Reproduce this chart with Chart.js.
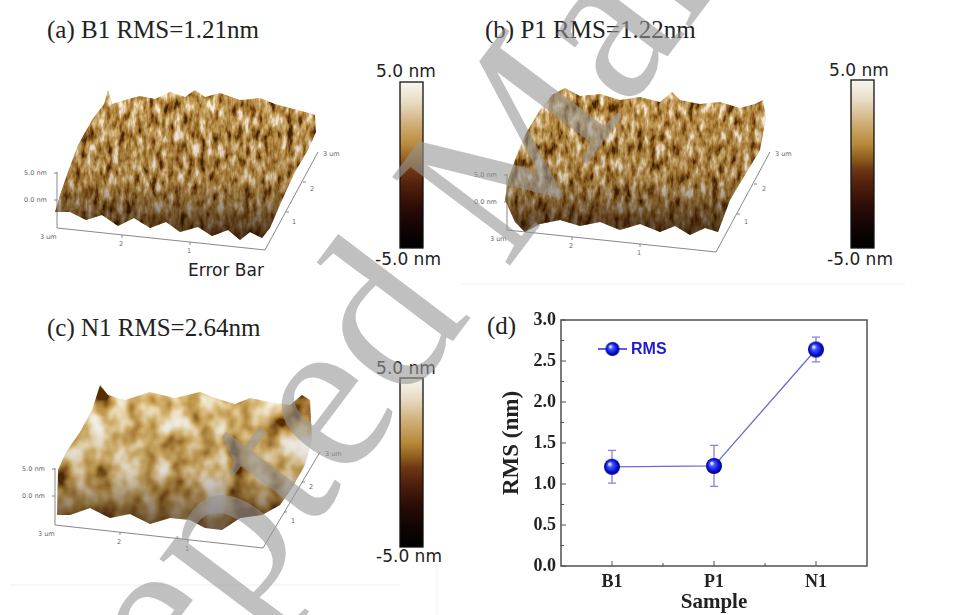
<!DOCTYPE html>
<html>
<head>
<meta charset="utf-8">
<script src="https://cdn.jsdelivr.net/npm/chart.js@4.4.1/dist/chart.umd.min.js"></script>
<style>
  html,body{margin:0;padding:0;background:#fff;}
  #wrap{position:relative;width:955px;height:615px;overflow:hidden;background:#fff;}
  #bg,#wm{position:absolute;left:0;top:0;}
  #wm{pointer-events:none;}
  #chartBox{position:absolute;left:480px;top:300px;width:475px;height:315px;}
</style>
</head>
<body>
<div id="wrap">
<svg id="bg" width="955" height="615" xmlns="http://www.w3.org/2000/svg">
  <defs>
    <linearGradient id="cbar" x1="0" y1="0" x2="0" y2="1">
      <stop offset="0" stop-color="#f8f6f0"/>
      <stop offset="0.12" stop-color="#e8dcc4"/>
      <stop offset="0.25" stop-color="#d0b07a"/>
      <stop offset="0.38" stop-color="#b88a3a"/>
      <stop offset="0.47" stop-color="#8e5c1c"/>
      <stop offset="0.53" stop-color="#6e3814"/>
      <stop offset="0.62" stop-color="#52200c"/>
      <stop offset="0.75" stop-color="#2c0c06"/>
      <stop offset="0.88" stop-color="#120404"/>
      <stop offset="1" stop-color="#000"/>
    </linearGradient>
    <linearGradient id="shade" x1="0" y1="0" x2="0" y2="1">
      <stop offset="0" stop-color="#1e0a00" stop-opacity="0"/>
      <stop offset="0.6" stop-color="#1e0a00" stop-opacity="0.15"/>
      <stop offset="1" stop-color="#1e0a00" stop-opacity="0.75"/>
    </linearGradient>
    <filter id="fine" filterUnits="userSpaceOnUse" x="0" y="0" width="955" height="615">
      <feTurbulence type="fractalNoise" baseFrequency="0.16 0.07" numOctaves="3" seed="4" result="n"/>
      <feColorMatrix in="n" type="matrix" values="1.7 0 0 0 -0.36  1.7 0 0 0 -0.36  1.7 0 0 0 -0.36  0 0 0 0 1" result="g"/>
      <feComponentTransfer in="g" result="c">
        <feFuncR type="table" tableValues="0.05 0.18 0.33 0.46 0.58 0.72 0.90 0.98"/>
        <feFuncG type="table" tableValues="0.02 0.06 0.15 0.25 0.36 0.50 0.75 0.92"/>
        <feFuncB type="table" tableValues="0.00 0.01 0.02 0.05 0.11 0.22 0.55 0.85"/>
      </feComponentTransfer>
      <feComposite in="c" in2="SourceGraphic" operator="in"/>
    </filter>
    <filter id="coarse" filterUnits="userSpaceOnUse" x="0" y="0" width="955" height="615">
      <feTurbulence type="fractalNoise" baseFrequency="0.035 0.03" numOctaves="3" seed="9" result="n"/>
      <feColorMatrix in="n" type="matrix" values="1.9 0 0 0 -0.47  1.9 0 0 0 -0.47  1.9 0 0 0 -0.47  0 0 0 0 1" result="g"/>
      <feComponentTransfer in="g" result="c">
        <feFuncR type="table" tableValues="0.10 0.36 0.56 0.72 0.86 0.95 1.0"/>
        <feFuncG type="table" tableValues="0.03 0.17 0.34 0.50 0.72 0.90 0.98"/>
        <feFuncB type="table" tableValues="0.00 0.03 0.08 0.18 0.44 0.78 0.95"/>
      </feComponentTransfer>
      <feComposite in="c" in2="SourceGraphic" operator="in"/>
    </filter>
  </defs>

  <!-- faint panel separators -->
  <line x1="460" y1="284" x2="905" y2="284" stroke="#efefef" stroke-width="1"/>
  <line x1="10" y1="585" x2="400" y2="585" stroke="#efefef" stroke-width="1"/>
  <line x1="437" y1="560" x2="437" y2="615" stroke="#f3f3f3" stroke-width="1"/>

  <!-- titles -->
  <g font-family="Liberation Serif, Times New Roman, serif" font-size="25" fill="#222">
    <text x="47" y="38">(a) B1 RMS=1.21nm</text>
    <text x="485" y="38">(b) P1 RMS=1.22nm</text>
    <text x="47" y="336">(c) N1 RMS=2.64nm</text>
    <text x="487" y="334">(d)</text>
  </g>

  <!-- colour bars -->
  <g stroke="#111" stroke-width="1.3">
    <rect x="400" y="82" width="23" height="166" fill="url(#cbar)"/>
    <rect x="851" y="80" width="23" height="168" fill="url(#cbar)"/>
    <rect x="400" y="378" width="23" height="169" fill="url(#cbar)"/>
  </g>
  <g font-family="DejaVu Sans, sans-serif" font-size="17" fill="#222" text-anchor="middle">
    <text x="406" y="77">5.0 nm</text>
    <text x="408" y="265">-5.0 nm</text>
    <text x="859" y="76">5.0 nm</text>
    <text x="860" y="265">-5.0 nm</text>
    <text x="406" y="374">5.0 nm</text>
    <text x="409" y="562">-5.0 nm</text>
  </g>
  <text x="188" y="276" font-family="DejaVu Sans, sans-serif" font-size="17" fill="#222">Error Bar</text>

  <!-- surface (a) -->
  <g fill="none" stroke="#7a7a7a" stroke-width="0.9">
    <polyline points="57,172 57,228 265,250 318,152"/>
    <line x1="54" y1="173" x2="57" y2="173"/><line x1="54" y1="200" x2="57" y2="200"/>
    <line x1="122" y1="235" x2="122" y2="238"/><line x1="190" y1="242" x2="190" y2="245"/>
    <line x1="286" y1="212" x2="289" y2="212"/><line x1="303" y1="182" x2="306" y2="182"/>
  </g>
  <polygon filter="url(#fine)" fill="#000" points="55,212 60,195 68,172 78,145 92,120 104,104 108,90 112,104 125,100 140,96 155,99 170,92 185,97 195,90 205,97 220,93 240,100 260,98 275,104 290,108 305,112 315,115 316,132 308,150 296,170 282,200 270,228 262,238 250,232 240,240 228,230 212,236 198,227 180,232 166,222 150,228 134,218 118,226 102,215 86,220 70,212"/>
  <polygon fill="url(#shade)" points="55,212 60,195 68,172 78,145 92,120 104,104 108,90 112,104 125,100 140,96 155,99 170,92 185,97 195,90 205,97 220,93 240,100 260,98 275,104 290,108 305,112 315,115 316,132 308,150 296,170 282,200 270,228 262,238 250,232 240,240 228,230 212,236 198,227 180,232 166,222 150,228 134,218 118,226 102,215 86,220 70,212"/>

  <!-- surface (b) -->
  <g fill="none" stroke="#7a7a7a" stroke-width="0.9">
    <polyline points="507,174 507,230 716,252 770,152"/>
    <line x1="504" y1="175" x2="507" y2="175"/><line x1="504" y1="202" x2="507" y2="202"/>
    <line x1="572" y1="237" x2="572" y2="240"/><line x1="640" y1="244" x2="640" y2="247"/>
    <line x1="737" y1="214" x2="740" y2="214"/><line x1="754" y1="184" x2="757" y2="184"/>
  </g>
  <polygon filter="url(#fine)" fill="#000" points="505,200 508,180 515,160 525,135 540,110 552,95 565,88 580,96 600,94 620,100 640,97 660,102 672,92 680,100 700,104 720,102 740,108 755,104 763,100 766,118 760,150 745,175 730,200 718,232 705,228 690,235 675,226 660,232 640,224 620,230 600,222 580,226 560,220 540,224 525,232 515,222"/>
  <polygon fill="url(#shade)" points="505,200 508,180 515,160 525,135 540,110 552,95 565,88 580,96 600,94 620,100 640,97 660,102 672,92 680,100 700,104 720,102 740,108 755,104 763,100 766,118 760,150 745,175 730,200 718,232 705,228 690,235 675,226 660,232 640,224 620,230 600,222 580,226 560,220 540,224 525,232 515,222"/>

  <!-- surface (c) -->
  <g fill="none" stroke="#7a7a7a" stroke-width="0.9">
    <polyline points="55,468 55,525 263,548 320,452"/>
    <line x1="52" y1="469" x2="55" y2="469"/><line x1="52" y1="496" x2="55" y2="496"/>
    <line x1="120" y1="532" x2="120" y2="535"/><line x1="188" y1="540" x2="188" y2="543"/>
    <line x1="284" y1="512" x2="287" y2="512"/><line x1="302" y1="482" x2="305" y2="482"/>
  </g>
  <polygon filter="url(#coarse)" fill="#000" points="57,515 58,470 66,452 80,432 92,410 100,385 108,395 125,400 150,392 175,398 200,392 215,398 235,404 250,398 270,402 290,405 302,395 310,400 312,440 305,465 292,488 280,505 262,515 240,518 222,530 205,528 190,520 170,518 150,524 130,514 110,518 90,508 70,515"/>
  <polygon fill="url(#shade)" opacity="0.85" points="57,515 58,470 66,452 80,432 92,410 100,385 108,395 125,400 150,392 175,398 200,392 215,398 235,404 250,398 270,402 290,405 302,395 310,400 312,440 305,465 292,488 280,505 262,515 240,518 222,530 205,528 190,520 170,518 150,524 130,514 110,518 90,508 70,515"/>

  <!-- tiny AFM axis labels -->
  <g font-family="DejaVu Sans, sans-serif" font-size="6.5" fill="#666">
    <text x="24" y="175">5.0 nm</text><text x="24" y="202">0.0 nm</text>
    <text x="40" y="239">3 um</text><text x="119" y="246">2</text><text x="187" y="253">1</text>
    <text x="323" y="156">3 um</text><text x="310" y="191">2</text><text x="292" y="224">1</text>

    <text x="474" y="177">5.0 nm</text><text x="474" y="204">0.0 nm</text>
    <text x="490" y="241">3 um</text><text x="569" y="248">2</text><text x="637" y="255">1</text>
    <text x="775" y="156">3 um</text><text x="762" y="191">2</text><text x="744" y="224">1</text>

    <text x="22" y="471">5.0 nm</text><text x="22" y="498">0.0 nm</text>
    <text x="38" y="536">3 um</text><text x="117" y="544">2</text><text x="185" y="551">1</text>
    <text x="325" y="456">3 um</text><text x="309" y="489">2</text><text x="291" y="523">1</text>
  </g>
</svg>

<div id="chartBox"><canvas id="c" width="475" height="315"></canvas></div>

<svg id="wm" width="955" height="615" xmlns="http://www.w3.org/2000/svg">
  <text x="-39" y="994" transform="rotate(-53 -39 994)" font-family="Liberation Serif, Times New Roman, serif" font-size="225" fill="rgb(150,150,150)" fill-opacity="0.6">Accepted Manuscript</text>
</svg>
</div>

<script>
// ---- data ----
const samples = ['B1', 'P1', 'N1'];
const rms     = [1.21, 1.22, 2.64];
const rmsErr  = [0.20, 0.25, 0.15];
const yTickStep = 0.5;
const seriesLabel = 'RMS';

// sphere marker
function makeSphere(r){
  const s = document.createElement('canvas');
  const d = r*2+2; s.width = d; s.height = d;
  const g = s.getContext('2d');
  const cx = d/2, cy = d/2;
  const grad = g.createRadialGradient(cx-r*0.3, cy-r*0.35, r*0.1, cx, cy, r);
  grad.addColorStop(0, '#dfe4ff');
  grad.addColorStop(0.25, '#4656ff');
  grad.addColorStop(0.7, '#0812d6');
  grad.addColorStop(1, '#00007a');
  g.fillStyle = grad;
  g.beginPath(); g.arc(cx, cy, r, 0, Math.PI*2); g.fill();
  return s;
}
const sphere = makeSphere(8);
const sphereSmall = makeSphere(7);

const serif = 'Liberation Serif, Times New Roman, serif';

const framePlugin = {
  id: 'frame',
  afterDraw(chart){
    const {ctx, chartArea:a, scales:{x, y}} = chart;
    ctx.save();
    ctx.strokeStyle = '#505050';
    ctx.lineWidth = 1.5;
    ctx.strokeRect(a.left, a.top, a.right - a.left, a.bottom - a.top);
    ctx.lineWidth = 1;
    for (let v = 0; v <= y.max + 1e-9; v += yTickStep/2){
      const py = y.getPixelForValue(v);
      const major = Math.abs(v / yTickStep - Math.round(v / yTickStep)) < 1e-6;
      ctx.beginPath(); ctx.moveTo(a.left, py); ctx.lineTo(a.left + (major ? 5 : 3), py); ctx.stroke();
    }
    for (let i = 0; i < samples.length; i++){
      const px = x.getPixelForValue(i + 1);
      ctx.beginPath(); ctx.moveTo(px, a.bottom); ctx.lineTo(px, a.bottom - 5); ctx.stroke();
      if (i < samples.length - 1){
        const pm = x.getPixelForValue(i + 1.5);
        ctx.beginPath(); ctx.moveTo(pm, a.bottom); ctx.lineTo(pm, a.bottom - 3); ctx.stroke();
      }
    }
    // legend
    const ly = a.top + 29, lx = a.left + 37;
    ctx.strokeStyle = '#2a2ae0'; ctx.lineWidth = 1.5;
    ctx.beginPath(); ctx.moveTo(lx, ly); ctx.lineTo(lx + 29, ly); ctx.stroke();
    ctx.drawImage(sphereSmall, lx + 14.5 - sphereSmall.width/2, ly - sphereSmall.height/2);
    ctx.fillStyle = '#1a1ad8';
    ctx.font = 'bold 16px Liberation Sans, Arial, sans-serif';
    ctx.textBaseline = 'middle';
    ctx.fillText(seriesLabel, lx + 33, ly + 1);
    ctx.restore();
  }
};

const errPlugin = {
  id: 'errbars',
  beforeDatasetsDraw(chart){
    const {ctx, scales:{x, y}} = chart;
    ctx.save();
    ctx.strokeStyle = '#8484d8';
    ctx.lineWidth = 1.3;
    rms.forEach((v, i) => {
      const px = x.getPixelForValue(i + 1);
      const t = y.getPixelForValue(v + rmsErr[i]);
      const b = y.getPixelForValue(v - rmsErr[i]);
      ctx.beginPath();
      ctx.moveTo(px, t); ctx.lineTo(px, b);
      ctx.moveTo(px - 4, t); ctx.lineTo(px + 4, t);
      ctx.moveTo(px - 4, b); ctx.lineTo(px + 4, b);
      ctx.stroke();
    });
    ctx.restore();
  }
};

new Chart(document.getElementById('c'), {
  type: 'line',
  data: {
    datasets: [{
      label: seriesLabel,
      data: samples.map((s, i) => ({x: i + 1, y: rms[i]})),
      borderColor: '#6a6ad8',
      borderWidth: 1.3,
      pointStyle: sphere,
      pointRadius: 8,
      tension: 0
    }]
  },
  options: {
    responsive: false,
    animation: false,
    layout: {padding: {left: 0, right: 88, top: 20, bottom: 0}},
    plugins: {legend: {display: false}, tooltip: {enabled: false}},
    scales: {
      x: {
        type: 'linear', min: 0.5, max: 3.5,
        afterBuildTicks: s => { s.ticks = samples.map((_, i) => ({value: i + 1})); },
        ticks: {callback: v => samples[v - 1], font: {family: serif, weight: 'bold', size: 18}, color: '#222', padding: 6, maxRotation: 0, autoSkip: false},
        grid: {display: false, drawTicks: false},
        border: {display: false},
        title: {display: true, text: 'Sample', font: {family: serif, weight: 'bold', size: 21}, color: '#222', padding: {top: 0, bottom: 0}},
        afterFit: s => { s.height = 49; }
      },
      y: {
        min: 0, max: 3,
        ticks: {stepSize: yTickStep, callback: v => v.toFixed(1), font: {family: serif, weight: 'bold', size: 18}, color: '#222', padding: 5},
        grid: {display: false, drawTicks: false},
        border: {display: false},
        title: {display: true, text: 'RMS (nm)', font: {family: serif, weight: 'bold', size: 23}, color: '#222', padding: {top: 18, bottom: 0}},
        afterFit: s => { s.width = 81; }
      }
    }
  },
  plugins: [errPlugin, framePlugin]
});
</script>
</body>
</html>
